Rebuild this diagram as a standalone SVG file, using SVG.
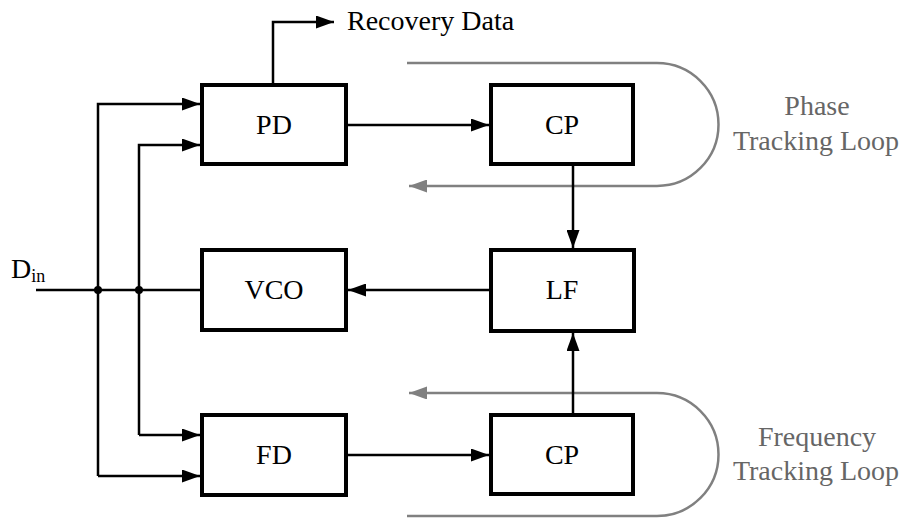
<svg xmlns="http://www.w3.org/2000/svg" width="907" height="518" viewBox="0 0 907 518">
  <style>
    .blk { fill: #fff; stroke: #000; stroke-width: 4; }
    .lbl { font-family: "Liberation Serif", "Times New Roman", serif; font-size: 28px; fill: #000; text-anchor: middle; }
    .wire { fill: none; stroke: #000; stroke-width: 2.5; }
    .arr { marker-end: url(#ah); }
    .loop { fill: none; stroke: #808080; stroke-width: 2.5; marker-end: url(#ahg); }
    .loopTxt { font-family: "Liberation Serif", "Times New Roman", serif; font-size: 28px; fill: #666; text-anchor: middle; }
  </style>
  <defs>
    <marker id="ah" markerUnits="userSpaceOnUse" markerWidth="18" markerHeight="13" refX="18" refY="6.5" orient="auto">
      <path d="M0,0 L18,6.5 L0,13 z" fill="#000"/>
    </marker>
    <marker id="ahg" markerUnits="userSpaceOnUse" markerWidth="18" markerHeight="13" refX="18" refY="6.5" orient="auto">
      <path d="M0,0 L18,6.5 L0,13 z" fill="#808080"/>
    </marker>
  </defs>
  <rect width="907" height="518" fill="#fff"/>

  <!-- tracking loop indicators -->
  <g id="phase-loop">
    <path class="loop" d="M407,63 H657 A61.5,61.5 0 0 1 657,186 H409"/>
    <text class="loopTxt" x="817" y="115">Phase</text>
    <text class="loopTxt" x="816" y="150">Tracking Loop</text>
  </g>
  <g id="frequency-loop">
    <path class="loop" d="M407,516 H657 A61.5,61.5 0 0 0 657,393 H409"/>
    <text class="loopTxt" x="817" y="446">Frequency</text>
    <text class="loopTxt" x="816" y="480">Tracking Loop</text>
  </g>

  <!-- connectors -->
  <g id="connectors">
    <path class="wire" d="M36,290 H202"/>
    <path class="wire arr" d="M98,476 V104 H200"/>
    <path class="wire arr" d="M98,476 H200"/>
    <path class="wire arr" d="M139,435 V145 H200"/>
    <path class="wire arr" d="M139,435 H200"/>
    <path class="wire arr" d="M348,125 H489"/>
    <path class="wire arr" d="M348,455 H489"/>
    <path class="wire arr" d="M573,166 V248"/>
    <path class="wire arr" d="M573,413 V333"/>
    <path class="wire arr" d="M489,290 H348"/>
    <path class="wire arr" d="M273,83 V22 H334"/>
    <circle cx="98" cy="290" r="4" fill="#000"/>
    <circle cx="139" cy="290" r="4" fill="#000"/>
  </g>

  <!-- blocks -->
  <g id="PD">
    <rect class="blk" x="202" y="85" width="144" height="79"/>
    <text class="lbl" x="274" y="134">PD</text>
  </g>
  <g id="CP-phase">
    <rect class="blk" x="491" y="85" width="142" height="79"/>
    <text class="lbl" x="562" y="134">CP</text>
  </g>
  <g id="VCO">
    <rect class="blk" x="202" y="250" width="144" height="80"/>
    <text class="lbl" x="274" y="299">VCO</text>
  </g>
  <g id="LF">
    <rect class="blk" x="491" y="250" width="143" height="81"/>
    <text class="lbl" x="562" y="299">LF</text>
  </g>
  <g id="FD">
    <rect class="blk" x="202" y="415" width="144" height="80"/>
    <text class="lbl" x="274" y="464">FD</text>
  </g>
  <g id="CP-frequency">
    <rect class="blk" x="491" y="415" width="142" height="79"/>
    <text class="lbl" x="562" y="464">CP</text>
  </g>

  <!-- labels -->
  <g id="labels">
    <text x="347" y="30" font-family="Liberation Serif, Times New Roman, serif" font-size="28" fill="#000">Recovery Data</text>
    <text x="11" y="278" font-family="Liberation Serif, Times New Roman, serif" font-size="28" fill="#000">D<tspan font-size="18" dy="4">in</tspan></text>
  </g>
</svg>
